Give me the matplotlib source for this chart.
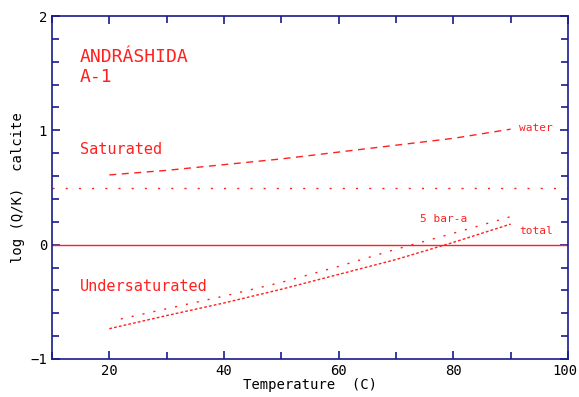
import matplotlib
matplotlib.use("Agg")
import matplotlib.pyplot as plt
from matplotlib.ticker import MultipleLocator, FixedLocator
from matplotlib.transforms import ScaledTranslation

temp = [20, 30, 40, 50, 60, 70, 80, 90]
water = [0.61, 0.65, 0.70, 0.75, 0.81, 0.87, 0.93, 1.01]
total = [-0.735, -0.62, -0.51, -0.39, -0.26, -0.13, 0.02, 0.18]
temp5 = [22, 30, 40, 50, 60, 70, 80, 90]
bar5 = [-0.65, -0.56, -0.45, -0.33, -0.19, -0.04, 0.10, 0.245]
sat_level = 0.5
xticks = [20, 40, 60, 80, 100]

RED = "#ff2020"
NAVY = "#1a1a8c"
FONT = "DejaVu Sans Mono"

fig = plt.figure(figsize=(5.79, 3.97), dpi=100)
ax = fig.add_axes([52/579, 1-359/397, (568-52)/579, (359-16)/397])

ax.axhline(0, color=RED, lw=1.0)
ax.axhline(sat_level, color=RED, lw=1.0, ls=(0, (1.5, 8)))
ax.plot(temp, water, color=RED, lw=1.0, ls=(0, (5, 4)))
ax.plot(temp, total, color=RED, lw=1.0, ls=(0, (2, 1.5)))
ax.plot(temp5, bar5, color=RED, lw=1.0, ls=(0, (1.5, 6.5)))

ax.set_xlim(10, 100)
ax.set_ylim(-1, 2)
ax.xaxis.set_major_locator(FixedLocator(xticks))
ax.xaxis.set_minor_locator(MultipleLocator(10))
ax.yaxis.set_major_locator(MultipleLocator(1))
ax.yaxis.set_minor_locator(MultipleLocator(0.2))
ax.tick_params(which="both", direction="in", top=True, right=True, color=NAVY,
               labelsize=10, labelcolor="black")
ax.tick_params(which="major", length=6, width=1.2)
ax.tick_params(which="minor", length=5, width=1.2)
for lab in ax.get_xticklabels() + ax.get_yticklabels():
    lab.set_family(FONT)
last = ax.xaxis.get_major_ticks()[-1].label1
last.set_transform(last.get_transform() + ScaledTranslation(-2.5/72, 0, fig.dpi_scale_trans))
for s in ax.spines.values():
    s.set_color(NAVY)
    s.set_linewidth(1.2)

ax.set_xlabel("Temperature  (C)", family=FONT, fontsize=10, labelpad=0)
ax.set_ylabel("log (Q/K)  calcite", family=FONT, fontsize=10, labelpad=4)

ax.text(14.9, 1.64, "ANDRÁSHIDA", color=RED, family=FONT, fontsize=13, va="center")
ax.text(14.9, 1.47, "A-1", color=RED, family=FONT, fontsize=13, va="center")
ax.text(14.9, 0.83, "Saturated", color=RED, family=FONT, fontsize=11, va="center")
ax.text(14.9, -0.37, "Undersaturated", color=RED, family=FONT, fontsize=11, va="center")
ax.text(91.5, 1.02, "water", color=RED, family=FONT, fontsize=8, va="center")
ax.text(74.2, 0.225, "5 bar-a", color=RED, family=FONT, fontsize=8, va="center")
ax.text(91.5, 0.12, "total", color=RED, family=FONT, fontsize=8, va="center")

fig.savefig("out.png", dpi=100)
